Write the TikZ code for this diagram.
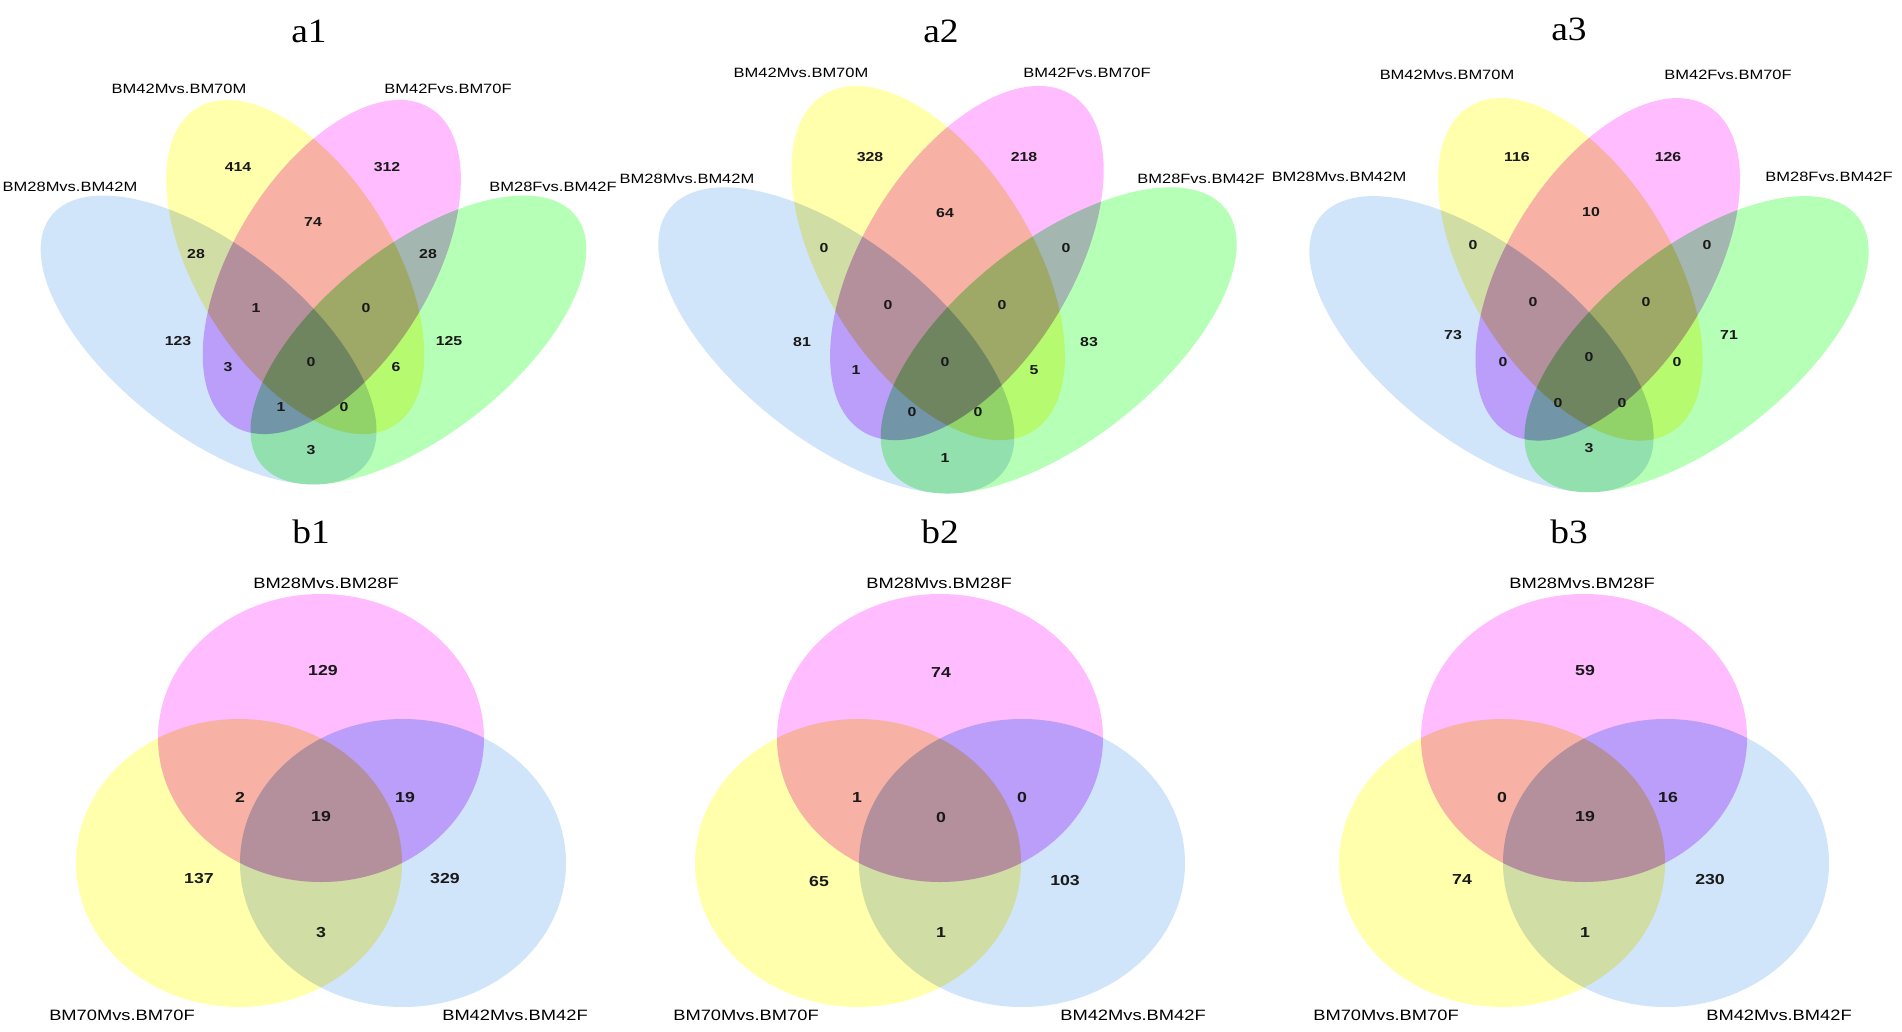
\documentclass[tikz,border=0pt]{standalone}
\usepackage{fontspec}
\setmainfont{Liberation Serif}
\setsansfont{Liberation Sans}
\newfontfamily\wsans[FakeStretch=1.22]{Liberation Sans}
\newfontfamily\wserif[FakeStretch=1.1]{Liberation Serif}
\definecolor{cblue}{RGB}{208,229,250}
\definecolor{cyel}{RGB}{255,255,172}
\definecolor{cpink}{RGB}{255,188,255}
\definecolor{cgreen}{RGB}{182,255,182}
\definecolor{numtxt}{RGB}{25,25,25}
% extra darkening of overlaps (multiplied in)
\definecolor{dBP}{rgb}{0.9,0.94,1}
\definecolor{dPY}{rgb}{0.97,0.95,0.96}
\definecolor{dYB}{rgb}{1,0.97,0.98}
\definecolor{dBG}{rgb}{0.98,0.98,0.98}
\definecolor{dYG}{rgb}{1,0.98,0.92}
\definecolor{dPG}{rgb}{0.9,0.97,0.97}
% ellipses of the four-set diagrams (local coordinates)
\newcommand{\QB}[2]{#1[#2,rotate around={132.8:(-86,7)}] (-86,7) ellipse [x radius=180,y radius=86];}
\newcommand{\QG}[2]{#1[#2,rotate around={47.2:(86,7)}] (86,7) ellipse [x radius=180,y radius=86];}
\newcommand{\QY}[2]{#1[#2,rotate around={114:(-15,-66)}] (-15,-66) ellipse [x radius=179,y radius=84];}
\newcommand{\QP}[2]{#1[#2,rotate around={66:(15,-66)}] (15,-66) ellipse [x radius=179,y radius=84];}
% ellipses of the three-set diagrams (local coordinates)
\newcommand{\TP}[2]{#1[#2] (0,0) ellipse [x radius=163,y radius=144];}
\newcommand{\TY}[2]{#1[#2] (-82,125) ellipse [x radius=163,y radius=144];}
\newcommand{\TB}[2]{#1[#2] (82,125) ellipse [x radius=163,y radius=144];}
\newcommand{\pairdark}[3]{\begin{scope}#1{\clip}{}#2{\fill}{#3,blend mode=multiply}\end{scope}}
% #1 centre x, #2 reference y, #3 scale
\newcommand{\quadvenn}[3]{%
\begin{scope}[shift={(#1,#2)},xscale=1.22*#3,yscale=#3]
\QB{\fill}{cblue,blend mode=multiply}
\QG{\fill}{cgreen,blend mode=multiply}
\QY{\fill}{cyel,blend mode=multiply}
\QP{\fill}{cpink,blend mode=multiply}
\pairdark{\QB}{\QP}{dBP}
\pairdark{\QP}{\QY}{dPY}
\pairdark{\QY}{\QB}{dYB}
\pairdark{\QB}{\QG}{dBG}
\pairdark{\QY}{\QG}{dYG}
\pairdark{\QP}{\QG}{dPG}
\end{scope}}
% #1 centre x of top circle
\newcommand{\trivenn}[1]{%
\begin{scope}[shift={(#1,738)}]
\TP{\fill}{cpink,blend mode=multiply}
\TY{\fill}{cyel,blend mode=multiply}
\TB{\fill}{cblue,blend mode=multiply}
\pairdark{\TB}{\TP}{dBP}
\pairdark{\TP}{\TY}{dPY}
\pairdark{\TY}{\TB}{dYB}
\end{scope}}
\begin{document}
\begin{tikzpicture}[x=1pt,y=-1pt,
  ttl/.style={font=\wserif\fontsize{34}{34}\selectfont,anchor=base,inner sep=0pt},
  alab/.style={font=\wsans\fontsize{13.5}{13.5}\selectfont,inner sep=0pt},
  blab/.style={font=\wsans\fontsize{15}{15}\selectfont,inner sep=0pt},
  anum/.style={font=\wsans\bfseries\fontsize{13}{13}\selectfont,inner sep=0pt,text=numtxt},
  bnum/.style={font=\wsans\bfseries\fontsize{14.5}{14.5}\selectfont,inner sep=0pt,text=numtxt}]
\fill[white] (0,0) rectangle (1902,1032);
\useasboundingbox (0,0) rectangle (1902,1032);
% ---------- shapes ----------
\quadvenn{313.5}{333}{1}
\quadvenn{947.5}{333}{1.06}
\quadvenn{1589}{337}{1.025}
\trivenn{321}
\trivenn{940}
\trivenn{1584}
% ---------- titles ----------
\node[ttl] (ta1) at (309,43) {a1};
\node[ttl] (ta2) at (941,43) {a2};
\node[ttl] (ta3) at (1569,41) {a3};
\node[ttl] (tb1) at (311,543) {b1};
\node[ttl] (tb2) at (940,543) {b2};
\node[ttl] (tb3) at (1569,543) {b3};
% ---------- a1 ----------
\node[alab] (a1l1) at (179,89) {BM42Mvs.BM70M};
\node[alab] (a1l2) at (448,89) {BM42Fvs.BM70F};
\node[alab] (a1l3) at (70,187) {BM28Mvs.BM42M};
\node[alab] (a1l4) at (553,187) {BM28Fvs.BM42F};
\node[anum] (a1n1) at (238,167) {414};
\node[anum] (a1n2) at (387,167) {312};
\node[anum] (a1n3) at (313,222) {74};
\node[anum] (a1n4) at (196,254) {28};
\node[anum] (a1n5) at (428,254) {28};
\node[anum] (a1n6) at (256,308) {1};
\node[anum] (a1n7) at (366,308) {0};
\node[anum] (a1n8) at (178,341) {123};
\node[anum] (a1n9) at (449,341) {125};
\node[anum] (a1n10) at (228,367) {3};
\node[anum] (a1n11) at (311,362) {0};
\node[anum] (a1n12) at (396,367) {6};
\node[anum] (a1n13) at (281,407) {1};
\node[anum] (a1n14) at (344,407) {0};
\node[anum] (a1n15) at (311,450) {3};
% ---------- a2 ----------
\node[alab] (a2l1) at (801,73) {BM42Mvs.BM70M};
\node[alab] (a2l2) at (1087,73) {BM42Fvs.BM70F};
\node[alab] (a2l3) at (687,179) {BM28Mvs.BM42M};
\node[alab] (a2l4) at (1201,179) {BM28Fvs.BM42F};
\node[anum] (a2n1) at (870,157) {328};
\node[anum] (a2n2) at (1024,157) {218};
\node[anum] (a2n3) at (945,213) {64};
\node[anum] (a2n4) at (824,248) {0};
\node[anum] (a2n5) at (1066,248) {0};
\node[anum] (a2n6) at (888,305) {0};
\node[anum] (a2n7) at (1002,305) {0};
\node[anum] (a2n8) at (802,342) {81};
\node[anum] (a2n9) at (1089,342) {83};
\node[anum] (a2n10) at (856,370) {1};
\node[anum] (a2n11) at (945,362) {0};
\node[anum] (a2n12) at (1034,370) {5};
\node[anum] (a2n13) at (912,412) {0};
\node[anum] (a2n14) at (978,412) {0};
\node[anum] (a2n15) at (945,458) {1};
% ---------- a3 ----------
\node[alab] (a3l1) at (1447,75) {BM42Mvs.BM70M};
\node[alab] (a3l2) at (1728,75) {BM42Fvs.BM70F};
\node[alab] (a3l3) at (1339,177) {BM28Mvs.BM42M};
\node[alab] (a3l4) at (1829,177) {BM28Fvs.BM42F};
\node[anum] (a3n1) at (1517,157) {116};
\node[anum] (a3n2) at (1668,157) {126};
\node[anum] (a3n3) at (1591,212) {10};
\node[anum] (a3n4) at (1473,245) {0};
\node[anum] (a3n5) at (1707,245) {0};
\node[anum] (a3n6) at (1533,302) {0};
\node[anum] (a3n7) at (1646,302) {0};
\node[anum] (a3n8) at (1453,335) {73};
\node[anum] (a3n9) at (1729,335) {71};
\node[anum] (a3n10) at (1503,362) {0};
\node[anum] (a3n11) at (1589,357) {0};
\node[anum] (a3n12) at (1677,362) {0};
\node[anum] (a3n13) at (1558,403) {0};
\node[anum] (a3n14) at (1622,403) {0};
\node[anum] (a3n15) at (1589,448) {3};
% ---------- b1 ----------
\node[blab] (b1l1) at (326,583) {BM28Mvs.BM28F};
\node[blab] (b1l2) at (122,1015) {BM70Mvs.BM70F};
\node[blab] (b1l3) at (515,1015) {BM42Mvs.BM42F};
\node[bnum] (b1n1) at (323,671) {129};
\node[bnum] (b1n2) at (240,797) {2};
\node[bnum] (b1n3) at (321,816) {19};
\node[bnum] (b1n4) at (405,797) {19};
\node[bnum] (b1n5) at (199,879) {137};
\node[bnum] (b1n6) at (445,879) {329};
\node[bnum] (b1n7) at (321,933) {3};
% ---------- b2 ----------
\node[blab] (b2l1) at (939,583) {BM28Mvs.BM28F};
\node[blab] (b2l2) at (746,1015) {BM70Mvs.BM70F};
\node[blab] (b2l3) at (1133,1015) {BM42Mvs.BM42F};
\node[bnum] (b2n1) at (941,673) {74};
\node[bnum] (b2n2) at (857,798) {1};
\node[bnum] (b2n3) at (941,818) {0};
\node[bnum] (b2n4) at (1022,798) {0};
\node[bnum] (b2n5) at (819,881) {65};
\node[bnum] (b2n6) at (1065,881) {103};
\node[bnum] (b2n7) at (941,933) {1};
% ---------- b3 ----------
\node[blab] (b3l1) at (1582,583) {BM28Mvs.BM28F};
\node[blab] (b3l2) at (1386,1015) {BM70Mvs.BM70F};
\node[blab] (b3l3) at (1779,1015) {BM42Mvs.BM42F};
\node[bnum] (b3n1) at (1585,671) {59};
\node[bnum] (b3n2) at (1502,797) {0};
\node[bnum] (b3n3) at (1585,816) {19};
\node[bnum] (b3n4) at (1668,797) {16};
\node[bnum] (b3n5) at (1462,880) {74};
\node[bnum] (b3n6) at (1710,880) {230};
\node[bnum] (b3n7) at (1585,933) {1};
\end{tikzpicture}
\end{document}
